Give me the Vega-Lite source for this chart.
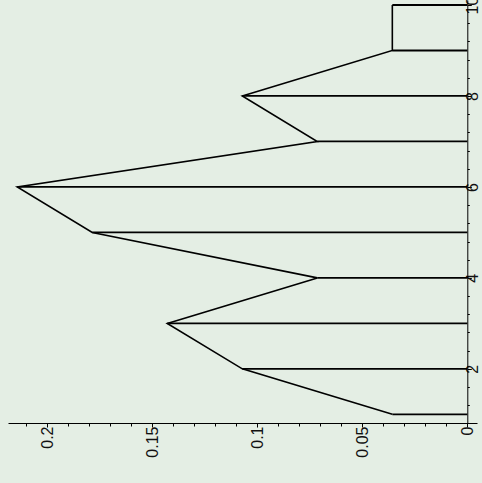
{
  "$schema": "https://vega.github.io/schema/vega-lite/v6.json",
  "width": 469,
  "height": 423,
  "autosize": {"type": "none"},
  "padding": {"left": 8, "top": 0, "right": 5, "bottom": 60},
  "background": "#e4eee4",
  "config": {
    "view": {"stroke": null}
  },
  "data": {
    "values": [
      {"i": 1, "v": 0.035714},
      {"i": 2, "v": 0.107143},
      {"i": 3, "v": 0.142857},
      {"i": 4, "v": 0.071429},
      {"i": 5, "v": 0.178571},
      {"i": 6, "v": 0.214286},
      {"i": 7, "v": 0.071429},
      {"i": 8, "v": 0.107143},
      {"i": 9, "v": 0.035714},
      {"i": 10, "v": 0.035714}
    ]
  },
  "resolve": {"axis": {"x": "independent", "y": "independent"}},
  "layer": [
    {
      "mark": {"type": "rule", "color": "black", "strokeWidth": 1.8},
      "encoding": {
        "y": {
          "field": "i",
          "type": "quantitative",
          "scale": {"domain": [0.81, 10.11], "nice": false, "zero": false},
          "axis": {
            "orient": "right",
            "offset": -9.7,
            "values": [2, 4, 6, 8, 10],
            "format": "d",
            "title": null,
            "grid": false,
            "domainColor": "black",
            "tickColor": "black",
            "labelColor": "#111111",
            "labelFont": "Liberation Sans, Arial, Helvetica, sans-serif",
            "labelFontSize": 16,
            "labelOverlap": false,
            "labelFlush": false,
            "tickSize": 4,
            "labelAngle": 270,
            "labelAlign": "center",
            "labelBaseline": "top",
            "labelPadding": -6.5
          }
        },
        "x": {
          "field": "v",
          "type": "quantitative",
          "scale": {"domain": [-0.0046, 0.2187], "reverse": true, "nice": false, "zero": false},
          "axis": {
            "orient": "bottom",
            "values": [0, 0.05, 0.1, 0.15, 0.2],
            "format": ".2~f",
            "title": null,
            "grid": false,
            "domainColor": "black",
            "tickColor": "black",
            "labelColor": "#111111",
            "labelFont": "Liberation Sans, Arial, Helvetica, sans-serif",
            "labelFontSize": 16,
            "labelOverlap": false,
            "labelFlush": false,
            "tickSize": 4,
            "labelAngle": 270,
            "labelAlign": "right",
            "labelBaseline": "middle",
            "labelPadding": -1
          }
        },
        "x2": {"datum": 0}
      }
    },
    {
      "mark": {"type": "line", "color": "black", "strokeWidth": 1.6},
      "encoding": {
        "y": {
          "field": "i",
          "type": "quantitative",
          "scale": {"domain": [0.81, 10.11], "nice": false, "zero": false},
          "axis": {
            "orient": "right",
            "offset": -9.7,
            "values": [1.2, 1.6, 2.4, 2.8, 3.2, 3.6, 4.4, 4.8, 5.2, 5.6, 6.4, 6.8, 7.2, 7.6, 8.4, 8.8, 9.2, 9.6],
            "title": null,
            "grid": false,
            "tickColor": "black",
            "tickSize": 2,
            "labels": false,
            "domain": false
          }
        },
        "x": {
          "field": "v",
          "type": "quantitative",
          "scale": {"domain": [-0.0046, 0.2187], "reverse": true, "nice": false, "zero": false},
          "axis": {
            "orient": "bottom",
            "values": [0.01, 0.02, 0.03, 0.04, 0.06, 0.07, 0.08, 0.09, 0.11, 0.12, 0.13, 0.14, 0.16, 0.17, 0.18, 0.19, 0.21],
            "title": null,
            "grid": false,
            "tickColor": "black",
            "tickSize": 3,
            "labels": false,
            "domain": false
          }
        },
        "order": {"field": "i", "type": "quantitative"}
      }
    }
  ]
}
